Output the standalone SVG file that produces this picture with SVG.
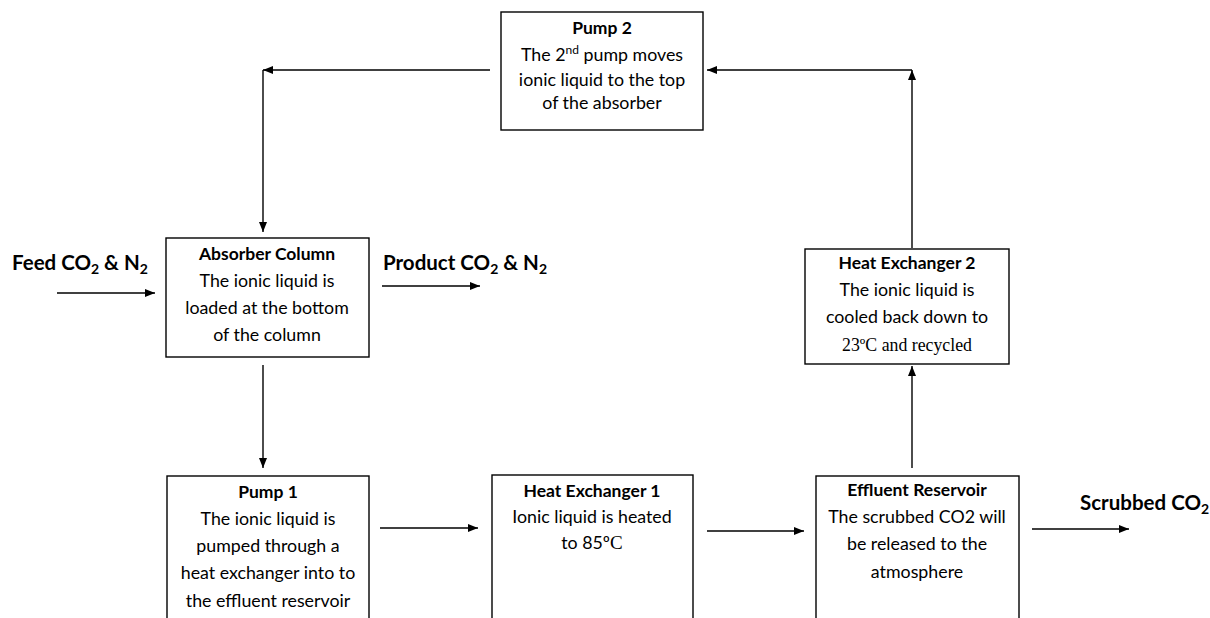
<svg xmlns="http://www.w3.org/2000/svg" width="1210" height="618" viewBox="0 0 1210 618">
<style>
.box{fill:#fff;stroke:#000;stroke-width:1.4}
.t{font-family:Lato,"Liberation Sans",sans-serif;font-size:17.8px;fill:#000;text-anchor:middle}
.b{font-weight:bold;font-size:17.5px}
.lab{font-family:Lato,"Liberation Sans",sans-serif;font-size:20.5px;font-weight:bold;fill:#000}
.serif{font-family:"Liberation Serif",serif}
.c{stroke:#000;stroke-width:1.4;fill:none}
</style>
<defs>
<marker id="ah" markerWidth="10" markerHeight="8" refX="10" refY="4" orient="auto" markerUnits="userSpaceOnUse">
<path d="M0,0 L10,4 L0,8 Z" fill="#000"/>
</marker>
</defs>
<rect width="1210" height="618" fill="#fff"/>
<g id="connectors">
<line class="c" x1="912" y1="248" x2="912" y2="70" marker-end="url(#ah)"/>
<line class="c" x1="912" y1="70" x2="707" y2="70" marker-end="url(#ah)"/>
<line class="c" x1="490" y1="70" x2="263" y2="70" marker-end="url(#ah)"/>
<line class="c" x1="263" y1="70" x2="263" y2="232" marker-end="url(#ah)"/>
<line class="c" x1="57" y1="293" x2="155" y2="293" marker-end="url(#ah)"/>
<line class="c" x1="382" y1="286" x2="480" y2="286" marker-end="url(#ah)"/>
<line class="c" x1="263" y1="365" x2="263" y2="468" marker-end="url(#ah)"/>
<line class="c" x1="380" y1="528" x2="478" y2="528" marker-end="url(#ah)"/>
<line class="c" x1="707" y1="531" x2="804" y2="531" marker-end="url(#ah)"/>
<line class="c" x1="1032" y1="529" x2="1129" y2="529" marker-end="url(#ah)"/>
<line class="c" x1="912" y1="468" x2="912" y2="366" marker-end="url(#ah)"/>
</g>
<g id="labels">
<text class="lab" x="12" y="270">Feed CO<tspan font-size="14" dy="4">2</tspan><tspan dy="-4"> &amp; N</tspan><tspan font-size="14" dy="4">2</tspan></text>
<text class="lab" x="383" y="270">Product CO<tspan font-size="14" dy="4">2</tspan><tspan dy="-4"> &amp; N</tspan><tspan font-size="14" dy="4">2</tspan></text>
<text class="lab" x="1080" y="510">Scrubbed CO<tspan font-size="14" dy="4">2</tspan></text>
</g>
<g id="pump2">
<rect class="box" x="501" y="12" width="202" height="118"/>
<text class="t b" x="602" y="34">Pump 2</text>
<text class="t" x="602" y="61">The 2<tspan font-size="12" dy="-7">nd</tspan><tspan dy="7"> pump moves</tspan></text>
<text class="t" x="602" y="86">ionic liquid to the top</text>
<text class="t" x="602" y="109">of the absorber</text>
</g>
<g id="absorber">
<rect class="box" x="166" y="238" width="203" height="119"/>
<text class="t b" x="267" y="260">Absorber Column</text>
<text class="t" x="267" y="287">The ionic liquid is</text>
<text class="t" x="267" y="314">loaded at the bottom</text>
<text class="t" x="267" y="341">of the column</text>
</g>
<g id="hx2">
<rect class="box" x="805" y="249" width="204" height="115"/>
<text class="t b" x="907" y="269">Heat Exchanger 2</text>
<text class="t" x="907" y="296">The ionic liquid is</text>
<text class="t" x="907" y="323">cooled back down to</text>
<text class="t serif" x="907" y="351" font-size="19.5">23ºC and recycled</text>
</g>
<g id="pump1">
<rect class="box" x="167" y="476" width="202" height="160"/>
<text class="t b" x="268" y="498">Pump 1</text>
<text class="t" x="268" y="525">The ionic liquid is</text>
<text class="t" x="268" y="552">pumped through a</text>
<text class="t" x="268" y="579">heat exchanger into to</text>
<text class="t" x="268" y="607">the effluent reservoir</text>
</g>
<g id="hx1">
<rect class="box" x="492" y="475" width="201" height="160"/>
<text class="t b" x="592" y="497">Heat Exchanger 1</text>
<text class="t" x="592" y="523">Ionic liquid is heated</text>
<text class="t" x="592" y="549">to 85º<tspan class="serif" font-size="19">C</tspan></text>
</g>
<g id="effluent">
<rect class="box" x="816" y="476" width="203" height="160"/>
<text class="t b" x="917" y="496">Effluent Reservoir</text>
<text class="t" x="917" y="523">The scrubbed CO2 will</text>
<text class="t" x="917" y="550">be released to the</text>
<text class="t" x="917" y="578">atmosphere</text>
</g>
</svg>
